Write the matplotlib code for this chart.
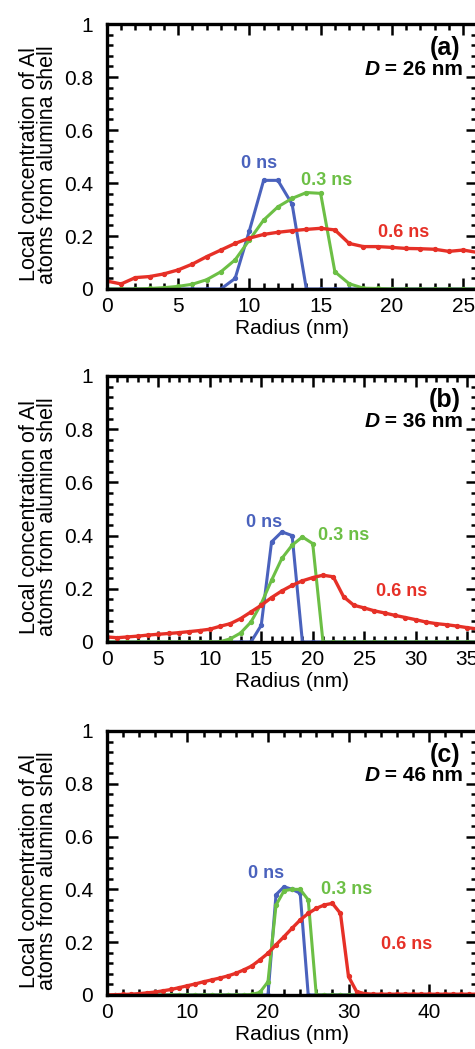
import matplotlib
matplotlib.use('Agg')
import matplotlib.pyplot as plt
import matplotlib.ticker as ticker

plt.rcParams['font.family'] = ['Liberation Sans', 'DejaVu Sans']

# Panel (a): D = 26 nm, radius 0..26 nm
r_a = list(range(0, 27))
blue_a = [0, 0, 0, 0, 0, 0, 0, 0, 0, 0.04, 0.22, 0.41, 0.41, 0.32, 0,
          0, 0, 0, 0, 0, 0, 0, 0, 0, 0, 0, 0]
green_a = [0, 0, 0, 0.002, 0.005, 0.01, 0.018, 0.035, 0.065, 0.11, 0.185, 0.26, 0.31,
           0.342, 0.364, 0.361, 0.065, 0.02, 0.003, 0.002, 0, 0, 0, 0, 0, 0, 0]
red_a = [0.03, 0.019, 0.043, 0.047, 0.057, 0.072, 0.094, 0.122, 0.147, 0.172, 0.192,
         0.206, 0.214, 0.22, 0.225, 0.229, 0.223, 0.172, 0.16, 0.16, 0.157, 0.153,
         0.152, 0.15, 0.142, 0.147, 0.138]

# Panel (b): D = 36 nm, radius 0..36 nm
r_b = list(range(0, 37))
blue_b = [0] * 15 + [0.063, 0.376, 0.414, 0.40] + [0] * 18
green_b = [0] * 11 + [0.001, 0.012, 0.034, 0.075, 0.144, 0.232, 0.314, 0.364, 0.395,
                      0.37] + [0] * 16
red_b = [0.019, 0.016, 0.019, 0.022, 0.026, 0.029, 0.032, 0.035, 0.039, 0.043, 0.048,
         0.059, 0.069, 0.088, 0.113, 0.138, 0.167, 0.192, 0.213, 0.23, 0.242, 0.251,
         0.245, 0.17, 0.138, 0.128, 0.117, 0.109, 0.1, 0.092, 0.084, 0.075, 0.069,
         0.065, 0.06, 0.054, 0.049]

# Panel (c): D = 46 nm, radius 0..46 nm
r_c = list(range(0, 47))
blue_c = [0] * 21 + [0.38, 0.41, 0.40, 0.385] + [0] * 22
green_c = [0] * 18 + [0.002, 0.01, 0.05, 0.34, 0.395, 0.40, 0.40, 0.36] + [0] * 21
red_c = [0, 0.001, 0.002, 0.003, 0.005, 0.008, 0.011, 0.016, 0.021, 0.028, 0.035,
         0.042, 0.05, 0.057, 0.064, 0.072, 0.082, 0.095, 0.11, 0.133, 0.158, 0.19,
         0.221, 0.253, 0.284, 0.309, 0.328, 0.341, 0.347, 0.309, 0.07, 0.013, 0.005,
         0.003, 0.003, 0.003, 0.003, 0.003, 0.003, 0.003, 0.003, 0.003, 0.003, 0.003,
         0.003, 0.003, 0.003]

panels = [
    # radius, blue, green, red, xmax, major, minor, letter, D, label positions
    (r_a, blue_a, green_a, red_a, 26, 5, 1, '(a)', '26', [(10.7, 0.475), (15.4, 0.41), (20.8, 0.215)]),
    (r_b, blue_b, green_b, red_b, 36, 5, 1, '(b)', '36', [(15.3, 0.45), (23.0, 0.40), (28.6, 0.19)]),
    (r_c, blue_c, green_c, red_c, 46, 10, 2, '(c)', '46', [(19.8, 0.46), (29.8, 0.40), (37.2, 0.19)]),
]
series_names = ['0 ns', '0.3 ns', '0.6 ns']
colors = ['#4a62bd', '#6cbf45', '#e63027']

ax_rects = [
    [0.225, 0.7245, 0.78, 0.2526],
    [0.225, 0.388, 0.78, 0.2536],
    [0.225, 0.0515, 0.78, 0.2517],
]

fig = plt.figure(figsize=(4.75, 10.49), dpi=100)

for rect, (r, b, g, rd, xmax, major, minor, letter, dval, pos) in zip(ax_rects, panels):
    ax = fig.add_axes(rect)
    for ys, c, lw in zip([b, g, rd], colors, [2.2, 2.2, 2.4]):
        ax.plot(r, ys, color=c, linewidth=lw, marker='o', markersize=2.8)
    for name, c, (tx, ty) in zip(series_names, colors, pos):
        ax.text(tx, ty, name, color=c, fontsize=13, fontweight='bold',
                ha='center', va='center')
    ax.text(0.955, 0.91, letter, transform=ax.transAxes, fontsize=18,
            fontweight='bold', ha='right', va='center')
    t = ax.text(0.962, 0.83, ' = ' + dval + ' nm', transform=ax.transAxes,
                fontsize=15, fontweight='bold', ha='right', va='center')
    ax.annotate('D', xy=(0, 0.5), xycoords=t, ha='right', va='center',
                fontsize=15, fontweight='bold', fontstyle='italic')

    ax.set_xlim(0, xmax)
    ax.set_ylim(0, 1)
    ax.xaxis.set_major_locator(ticker.MultipleLocator(major))
    ax.xaxis.set_minor_locator(ticker.MultipleLocator(minor))
    ax.yaxis.set_major_locator(ticker.MultipleLocator(0.2))
    ax.yaxis.set_minor_locator(ticker.MultipleLocator(0.04))
    ax.yaxis.set_major_formatter(ticker.FuncFormatter(lambda v, p: '%g' % round(v, 2)))
    ax.tick_params(which='both', direction='in', top=True, right=True, width=1.8)
    ax.tick_params(which='major', length=8, labelsize=15)
    ax.tick_params(axis='y', which='major', pad=10)
    ax.tick_params(axis='x', which='major', pad=6)
    ax.tick_params(which='minor', length=4)
    for s in ax.spines.values():
        s.set_linewidth(2.4)
    ax.set_xlabel('Radius (nm)', fontsize=15, labelpad=2)
    ax.set_ylabel('Local concentration of Al\natoms from alumina shell',
                  fontsize=15.5, linespacing=0.85, labelpad=4)
    ax.yaxis.label.set_y(0.47)

fig.savefig('out.png', dpi=100)
